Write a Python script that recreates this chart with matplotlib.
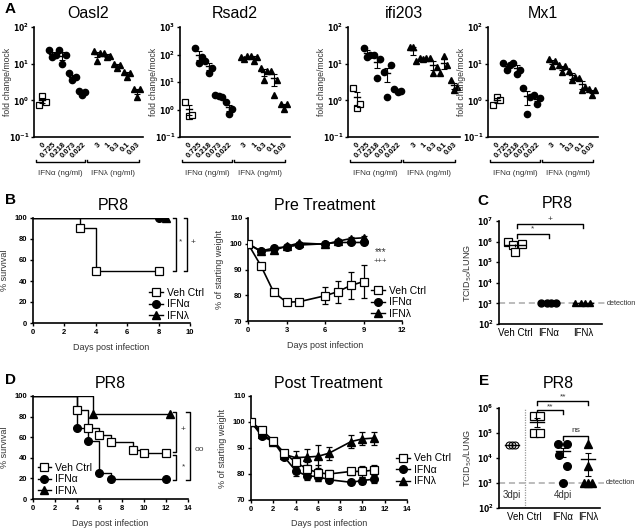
import numpy as np
import matplotlib
matplotlib.use('Agg')
import matplotlib.pyplot as plt
import matplotlib.transforms as mtransforms
from matplotlib.lines import Line2D

plt.rcParams['font.family'] = ['Liberation Sans', 'DejaVu Sans']

W, H = 640, 530

# ---- panel A: fold change / mock (3 replicates per dose) ----
DOSE_LABELS = ['0', '0.725', '0.218', '0.073', '0.022', '3', '1', '0.3', '0.1', '0.03']
GENES = ['Oasl2', 'Rsad2', 'ifi203', 'Mx1']
OASL2 = [[0.75, 1.35, 0.9], [23, 15, 17], [23, 9.5, 17], [5.5, 3.5, 4.3], [1.8, 1.4, 1.7],
         [22, 12, 20], [19, 15, 16], [10, 7.5, 9], [6, 4.3, 5.5], [2.1, 1.2, 2.1]]
RSAD2 = [[1.9, 0.6, 0.65], [170, 48, 80], [60, 22, 32], [3.4, 3.0, 2.8], [1.8, 0.7, 1.05],
         [80, 68, 85], [90, 60, 80], [32, 12, 25], [25, 3.3, 12], [1.6, 1.05, 1.6]]
IFI203 = [[2.2, 0.63, 0.8], [27, 15, 17], [17, 4, 13], [6, 1.2, 9], [2.1, 1.7, 1.8],
          [28, 29, 12], [14, 13, 14], [14, 5.5, 8], [5.5, 16, 9], [3.5, 1.9, 2.3]]
MX1 = [[0.75, 1.25, 1.0], [10.5, 6.6, 9], [10.5, 5.3, 6.8], [2.2, 0.43, 1.2], [1.4, 0.78, 1.15],
       [13, 8.5, 12], [9, 6, 8.5], [6.5, 3.5, 4.3], [4, 1.9, 2.3], [2, 1.4, 1.9]]
GENE_TOP = [2, 3, 2, 2]  # log10 of y max

# ---- panel B ----
B_SURV_VEH_DAYS = [0, 3, 4, 8]
B_SURV_VEH = [100, 90, 50, 50]
B_SURV_A_DAYS = [0, 8]
B_SURV_A = [100, 100]
B_SURV_L_DAYS = [0, 8.5]
B_SURV_L = [100, 100]

B_W_DAYS = [0, 1, 2, 3, 4, 6, 7, 8, 9]
B_W_VEH = [100, 91.5, 81.2, 77.3, 77.5, 79.8, 81.4, 83.8, 85.3]
B_W_VEH_ERR = [0, 0.5, 0.5, 0.5, 0.5, 3.3, 4.3, 5.3, 6.3]
B_W_A = [100, 97.2, 98.3, 98.8, 99.5, 100, 100.5, 100.5, 100.5]
B_W_A_ERR = [0, 0.5, 0.5, 0.5, 0.5, 0.5, 0.7, 0.7, 0.7]
B_W_L = [100, 97, 97.5, 99, 100.3, 99.8, 101, 102, 102.3]
B_W_L_ERR = [0, 0.5, 0.5, 0.5, 0.5, 0.5, 0.7, 0.7, 0.7]

# ---- panel C ----
C_GROUPS = ['Veh Ctrl', 'IFNα', 'IFNλ']
C_VEH = [9.3e5, 7e5, 7.3e5, 3.3e5]
C_A = [1e3, 1e3, 1e3, 1e3]
C_L = [1e3, 1e3, 1e3, 1e3]

# ---- panel D ----
D_SURV_VEH_DAYS = [0, 4, 5, 6, 7, 9, 10, 12]
D_SURV_VEH = [100, 86, 69, 62, 55, 48, 45, 45]
D_SURV_A_DAYS = [0, 4, 5, 6, 7, 12]
D_SURV_A = [100, 69, 56, 25, 19, 19]
D_SURV_L_DAYS = [0, 5.4, 12.4]
D_SURV_L = [100, 83, 83]

D_W_DAYS = [0, 1, 2, 3, 4, 5, 6, 7, 9, 10, 11]
D_W_VEH = [100, 96.8, 92.8, 88, 84.6, 82, 80.5, 80, 81, 81, 81.5]
D_W_VEH_ERR = [0, 0.5, 0.5, 1, 2, 2.5, 3, 1.5, 1.5, 2, 2]
D_W_A = [100, 94.5, 92.5, 86.5, 81.3, 79.3, 79, 77.8, 76.8, 77.5, 78]
D_W_A_ERR = [0, 0.5, 0.5, 0.5, 2, 1.5, 1.5, 1, 0.5, 1.5, 1.5]
D_W_L = [100, 95.5, 92.5, 87.5, 86.3, 86.5, 86.8, 88, 92.5, 93.5, 93.8]
D_W_L_ERR = [0, 0.5, 0.5, 1, 2.5, 3, 4.5, 2.5, 2.5, 2.5, 2.5]

# ---- panel E ----
E_GROUPS = ['Veh Ctrl', 'IFNα', 'IFNλ']
E_3DPI = [3.4e4, 3.4e4, 3.4e4]
E_VEH = [4.6e5, 4.6e5, 1e5, 1e5]
E_A = [3.6e4, 3.6e4, 1.35e4, 4.9e3, 1e3]
E_L = [3.6e4, 4.6e3, 1e3, 1e3, 1e3]

TICK_FS = 5.5
LABEL_FS = 6.5
TITLE_FS = 11.5
LEG_FS = 7.5
GREY = '#333333'


def px_axes(fig, left, top, right, bottom):
    return fig.add_axes([left / W, 1 - bottom / H, (right - left) / W, (bottom - top) / H])


def px_text(fig, x, y, s, **kw):
    fig.text(x / W, 1 - y / H, s, ha=kw.pop('ha', 'center'), va=kw.pop('va', 'center'), **kw)


def prism_style(ax):
    for s in ['top', 'right']:
        ax.spines[s].set_visible(False)
    for s in ['left', 'bottom']:
        ax.spines[s].set_linewidth(1.2)
    ax.tick_params(direction='out', length=2.5, width=1.0, labelsize=TICK_FS, pad=1.5)
    for lab in ax.get_xticklabels() + ax.get_yticklabels():
        lab.set_fontweight('bold')


def log_yaxis(ax, lo, hi, fs=5):
    ax.set_yscale('log')
    ax.set_ylim(10.0 ** lo, 10.0 ** hi)
    ticks = [10.0 ** k for k in range(lo, hi + 1)]
    ax.set_yticks(ticks)
    ax.set_yticklabels(['$\\mathbf{10^{%d}}$' % k for k in range(lo, hi + 1)], fontsize=fs)
    ax.yaxis.set_minor_locator(matplotlib.ticker.NullLocator())


def mean_sem(ax, x, vals, half=0.3, cap=2):
    vals = np.asarray(vals, dtype=float)
    m = vals.mean()
    sem = vals.std(ddof=1) / np.sqrt(len(vals))
    ax.errorbar(x, m, yerr=sem, fmt='none', ecolor='k', elinewidth=0.8, capsize=cap,
                capthick=0.8, zorder=4)
    ax.plot([x - half, x + half], [m, m], color='k', lw=1.0, zorder=4)


def marker_kw(kind, ms):
    if kind == 's':
        return dict(marker='s', mfc='white', mec='k', mew=0.9, ms=ms, ls='none')
    if kind == 'o':
        return dict(marker='o', mfc='k', mec='k', ms=ms, ls='none')
    return dict(marker='^', mfc='k', mec='k', ms=ms, ls='none')


def vbracket(ax, x, y0, y1, w, text, tx, ty, fs=6):
    ax.plot([x - w, x, x, x - w], [y0, y0, y1, y1], color='k', lw=1.0, clip_on=False)
    ax.text(tx, ty, text, fontsize=fs, ha='center', va='center', color=GREY, clip_on=False)


def hbracket(ax, x0, x1, y, drop, text, ty, fs=6):
    ax.plot([x0, x0, x1, x1], [y / drop, y, y, y / drop], color='k', lw=1.0, clip_on=False)
    ax.text((x0 + x1) / 2, ty, text, fontsize=fs, ha='center', va='center', color=GREY,
            clip_on=False)


def legend3(ax, loc, bbox):
    handles = [
        Line2D([], [], color='k', lw=1.0, marker='s', mfc='white', mec='k', ms=6, mew=0.9),
        Line2D([], [], color='k', lw=1.0, marker='o', mfc='k', ms=5.5),
        Line2D([], [], color='k', lw=1.0, marker='^', mfc='k', ms=5.5),
    ]
    ax.legend(handles, ['Veh Ctrl', 'IFNα', 'IFNλ'], loc=loc, bbox_to_anchor=bbox,
              frameon=False, fontsize=LEG_FS, handlelength=1.3, handletextpad=0.4,
              labelspacing=0.15, borderaxespad=0, borderpad=0)


def detection_line(ax, frac_end, frac_text):
    tr = mtransforms.blended_transform_factory(ax.transAxes, ax.transData)
    ax.plot([0, frac_end], [1e3, 1e3], ls=(0, (4, 2.5)), color='#aaaaaa', lw=1.1,
            transform=tr, clip_on=False, zorder=1)
    ax.text(frac_text, 1e3, 'detection', fontsize=5.3, color=GREY, va='center', transform=tr)


fig = plt.figure(figsize=(6.4, 5.3), dpi=100)

# ================= panel A =================
A_BOX = [(34, 143), (180, 290), (348, 460), (488, 598)]
A_TITLE_X = [88, 235, 404, 543]
A_POS = [0, 1, 2, 3, 4, 5.5, 6.5, 7.5, 8.5, 9.5]
OFFS3 = [-0.32, 0.0, 0.32]
for gi, (gene, vals) in enumerate(zip(GENES, [OASL2, RSAD2, IFI203, MX1])):
    l, r = A_BOX[gi]
    ax = px_axes(fig, l, 27, r, 137)
    for ci, reps in enumerate(vals):
        kind = 's' if ci == 0 else ('o' if ci < 5 else '^')
        x = A_POS[ci]
        ax.plot([x + o for o in OFFS3], reps, **marker_kw(kind, 4.5), zorder=3)
        mean_sem(ax, x, reps)
    log_yaxis(ax, -1, GENE_TOP[gi], fs=4.6)
    ax.set_xlim(-0.85, 10.1)
    ax.set_xticks(A_POS)
    ax.set_xticklabels(DOSE_LABELS, rotation=45, ha='right', rotation_mode='anchor')
    prism_style(ax)
    ax.tick_params(axis='x', length=0, pad=3)
    ax.tick_params(axis='y', pad=1)
    ax.set_ylabel('fold change/mock', fontsize=6.2, color=GREY)
    ax.yaxis.set_label_coords(-0.2, 0.5)
    px_text(fig, A_TITLE_X[gi], 14, gene, fontsize=TITLE_FS)
    tr = mtransforms.blended_transform_factory(ax.transData, ax.transAxes)
    for (x0, x1), lab in [((-0.65, 4.3), 'IFNα (ng/ml)'), ((4.5, 9.65), 'IFNλ (ng/ml)')]:
        ax.plot([x0, x0, x1, x1], [-0.205, -0.228, -0.228, -0.205], color='k', lw=1.0,
                transform=tr, clip_on=False)
        ax.text((x0 + x1) / 2, -0.33, lab, fontsize=5.8, color=GREY, ha='center', va='center',
                transform=tr)

px_text(fig, 5, 9, 'A', fontsize=11, fontweight='bold', ha='left')
px_text(fig, 5, 200, 'B', fontsize=11, fontweight='bold', ha='left')
px_text(fig, 477, 201, 'C', fontsize=11, fontweight='bold', ha='left')
px_text(fig, 5, 380, 'D', fontsize=11, fontweight='bold', ha='left')
px_text(fig, 479, 381, 'E', fontsize=11, fontweight='bold', ha='left')


def survival(ax, days, surv, kind):
    ax.step(days, surv, where='post', color='k', lw=1.0, zorder=2)
    ax.plot(days[1:], surv[1:], **marker_kw(kind, 6 if kind == 's' else 5.5), zorder=3)


def weight(ax, days, vals, err, kind):
    mk = {k: v for k, v in marker_kw(kind, 6 if kind == 's' else 5.5).items() if k != 'ls'}
    ax.errorbar(days, vals, yerr=err, color='k', lw=1.2, elinewidth=0.9, capsize=2.5,
                capthick=0.9, zorder=3, **mk)


def day_axes(ax, xmax, xstep, ylab, ylim, ystep):
    ax.set_xlim(0, xmax)
    ax.set_ylim(*ylim)
    ax.set_xticks(range(0, xmax + 1, xstep))
    ax.set_yticks(range(ylim[0], ylim[1] + 1, ystep))
    prism_style(ax)
    ax.set_xlabel('Days post infection', fontsize=LABEL_FS, color=GREY, labelpad=5)
    ax.set_ylabel(ylab, fontsize=LABEL_FS, color=GREY, labelpad=4)


# ================= panel B survival =================
ax = px_axes(fig, 33, 218, 190, 323)
survival(ax, B_SURV_A_DAYS, B_SURV_A, 'o')
survival(ax, B_SURV_L_DAYS, B_SURV_L, '^')
survival(ax, B_SURV_VEH_DAYS, B_SURV_VEH, 's')
day_axes(ax, 10, 2, '% survival', (0, 100), 20)
px_text(fig, 113, 205, 'PR8', fontsize=TITLE_FS)
vbracket(ax, 9.1, 100, 50, 0.2, '*', 9.4, 77)
vbracket(ax, 9.8, 100, 50, 0.2, '+', 10.2, 77)
legend3(ax, 'lower left', (0.74, 0.02))

# ================= panel B weight =================
ax = px_axes(fig, 248, 218, 402, 321)
weight(ax, B_W_DAYS, B_W_L, B_W_L_ERR, '^')
weight(ax, B_W_DAYS, B_W_A, B_W_A_ERR, 'o')
weight(ax, B_W_DAYS, B_W_VEH, B_W_VEH_ERR, 's')
day_axes(ax, 12, 3, '% of starting weight', (70, 110), 10)
px_text(fig, 325, 205, 'Pre Treatment', fontsize=TITLE_FS)
ax.text(10.3, 96.8, '***', fontsize=7, ha='center', va='center', color=GREY)
ax.text(10.3, 93.2, '+++', fontsize=5.5, ha='center', va='center', color=GREY)
legend3(ax, 'lower left', (0.8, 0.02))

# ================= panel C =================
ax = px_axes(fig, 499, 221, 602, 324)
OFFS4 = [-0.2, -0.05, 0.2, 0.0]
OFFS4B = [-0.22, -0.07, 0.07, 0.22]
ax.plot([0 + o for o in OFFS4], C_VEH, **marker_kw('s', 5.5), zorder=3)
ax.plot([1 + o for o in OFFS4B], C_A, **marker_kw('o', 5), zorder=3)
ax.plot([2 + o for o in OFFS4B], C_L, **marker_kw('^', 5), zorder=3)
for x, v in zip([0, 1, 2], [C_VEH, C_A, C_L]):
    mean_sem(ax, x, v, half=0.3, cap=0)
log_yaxis(ax, 2, 7)
ax.set_xlim(-0.47, 2.56)
ax.set_xticks([0, 1, 2])
ax.set_xticklabels(C_GROUPS)
prism_style(ax)
ax.tick_params(axis='x', length=0, labelsize=7, pad=3)
for lab in ax.get_xticklabels():
    lab.set_fontweight('normal')
ax.set_ylabel('TCID$_{50}$/LUNG', fontsize=LABEL_FS, color=GREY, labelpad=2)
px_text(fig, 557, 203, 'PR8', fontsize=TITLE_FS)
detection_line(ax, 1.03, 1.05)
hbracket(ax, 0.05, 1.0, 10 ** 6.35, 10 ** 0.16, '*', 10 ** 6.6)
hbracket(ax, 0.05, 2.0, 10 ** 6.84, 10 ** 0.16, '+', 10 ** 7.06)

# ================= panel D survival =================
ax = px_axes(fig, 33, 396, 188, 499)
survival(ax, D_SURV_L_DAYS, D_SURV_L, '^')
survival(ax, D_SURV_A_DAYS, D_SURV_A, 'o')
survival(ax, D_SURV_VEH_DAYS, D_SURV_VEH, 's')
day_axes(ax, 14, 2, '% survival', (0, 100), 20)
px_text(fig, 110, 383, 'PR8', fontsize=TITLE_FS)
vbracket(ax, 12.95, 84.6, 45.3, 0.3, '+', 13.55, 67)
vbracket(ax, 12.95, 42.8, 18.6, 0.3, '*', 13.55, 31.5)
vbracket(ax, 14.15, 84.6, 18.6, 0.3, 'oo', 15.0, 47.6)
legend3(ax, 'lower left', (0.03, 0.03))

# ================= panel D weight =================
ax = px_axes(fig, 251, 396, 407, 500)
weight(ax, D_W_DAYS, D_W_L, D_W_L_ERR, '^')
weight(ax, D_W_DAYS, D_W_A, D_W_A_ERR, 'o')
weight(ax, D_W_DAYS, D_W_VEH, D_W_VEH_ERR, 's')
day_axes(ax, 14, 2, '% of starting weight', (70, 110), 10)
px_text(fig, 328, 383, 'Post Treatment', fontsize=TITLE_FS)
legend3(ax, 'lower left', (0.93, 0.13))

# ================= panel E =================
ax = px_axes(fig, 499, 408, 600, 508)
ax.plot([0 - 0.12, 0, 0.12], E_3DPI, marker='o', mfc='none', mec='k', mew=0.8, ms=5,
        ls='none', zorder=3)
ax.plot([1 + o for o in [-0.12, 0.12, -0.12, 0.12]], E_VEH, **marker_kw('s', 6), zorder=3)
ax.plot([2 + o for o in [-0.17, 0.17, -0.15, 0.15, 0.0]], E_A, **marker_kw('o', 5.5), zorder=3)
ax.plot([3 + o for o in [0.0, 0.0, -0.17, 0.0, 0.17]], E_L, **marker_kw('^', 5.5), zorder=3)
for x, v in zip([0, 1, 2, 3], [E_3DPI, E_VEH, E_A, E_L]):
    mean_sem(ax, x, v, half=0.28, cap=2)
log_yaxis(ax, 2, 6)
ax.set_xlim(-0.51, 3.47)
ax.set_xticks([0.5, 2, 3])
ax.set_xticklabels(E_GROUPS)
prism_style(ax)
ax.tick_params(axis='x', length=0, labelsize=7, pad=3)
for lab in ax.get_xticklabels():
    lab.set_fontweight('normal')
ax.set_ylabel('TCID$_{50}$/LUNG', fontsize=LABEL_FS, color=GREY, labelpad=2)
px_text(fig, 558, 383, 'PR8', fontsize=TITLE_FS)
ax.axvline(0.51, color='#999999', lw=0.9, ls=(0, (1, 1)))
detection_line(ax, 1.04, 1.06)
ax.text(0, 10 ** 2.5, '3dpi', fontsize=7, color=GREY, ha='center', va='center')
ax.text(2, 10 ** 2.5, '4dpi', fontsize=7, color=GREY, ha='center', va='center')
hbracket(ax, 1.0, 2.0, 10 ** 5.91, 10 ** 0.14, '**', 10 ** 6.05)
hbracket(ax, 1.0, 3.0, 10 ** 6.27, 10 ** 0.14, '**', 10 ** 6.45)
hbracket(ax, 2.0, 3.0, 10 ** 4.87, 10 ** 0.14, 'ns', 10 ** 5.12)

fig.savefig('out.png', dpi=100)
